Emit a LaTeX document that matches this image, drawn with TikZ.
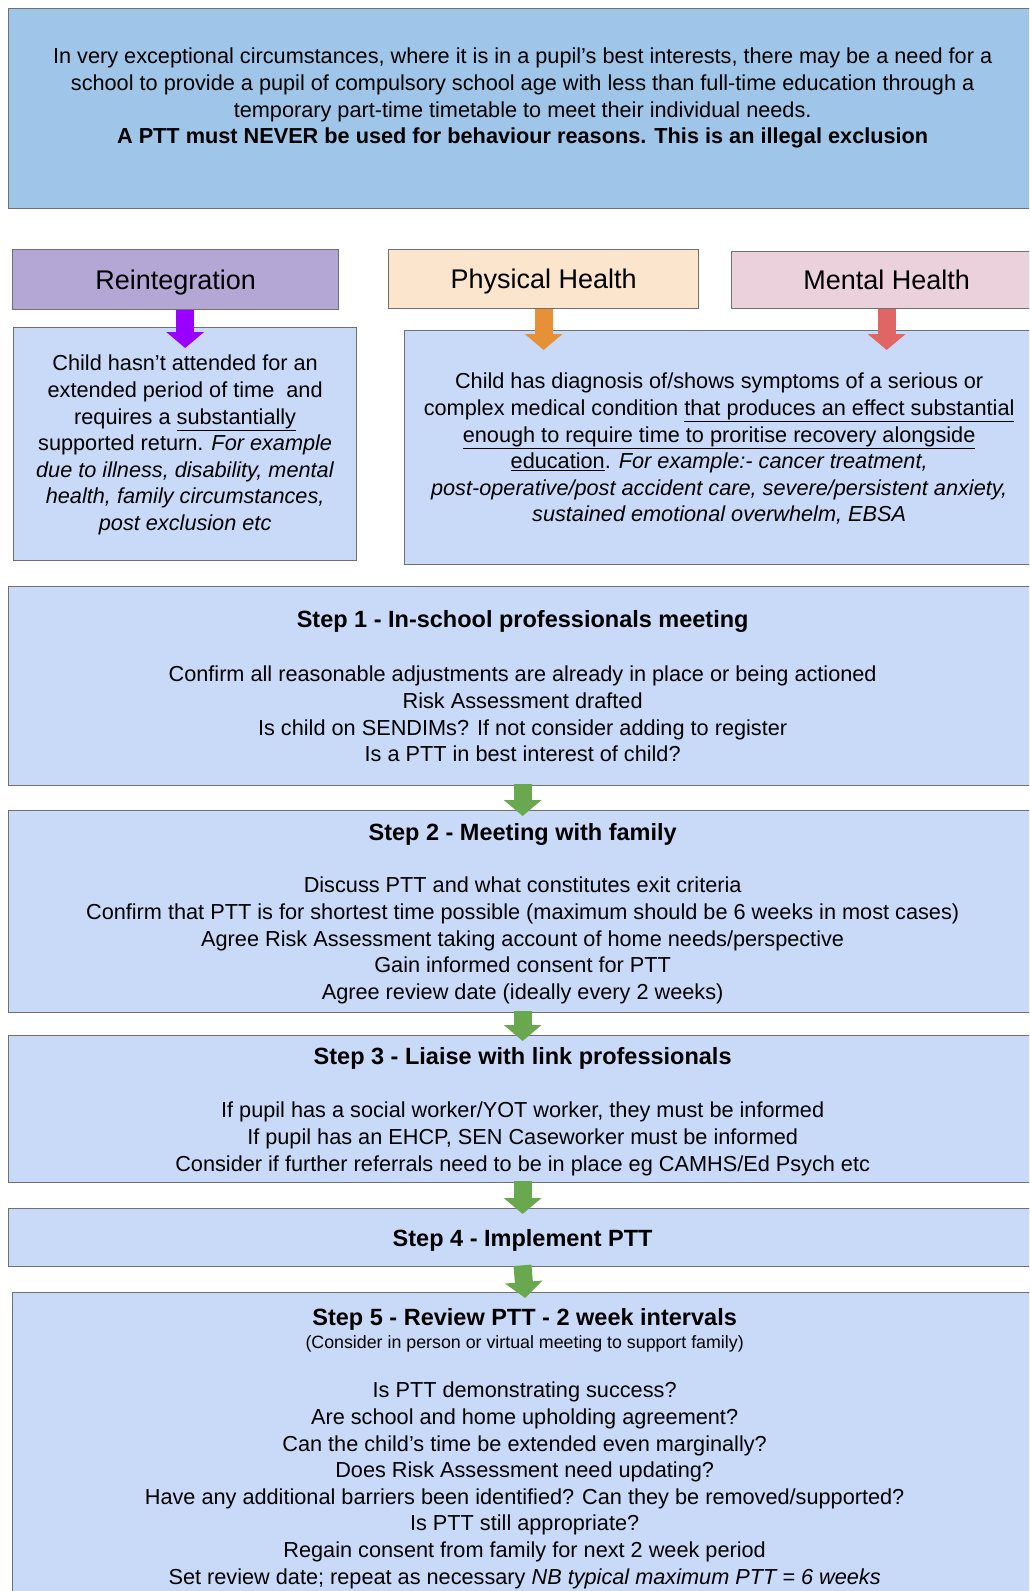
\documentclass[tikz,border=0pt]{standalone}
\usepackage{fontspec}
\setmainfont{Liberation Sans}
\usepackage{tikz}
\usetikzlibrary{arrows.meta, positioning}
\definecolor{introblue}{HTML}{9FC5E8}
\definecolor{stepblue}{HTML}{C9DAF8}
\definecolor{reintpurple}{HTML}{B4A7D6}
\definecolor{physorange}{HTML}{FCE5CD}
\definecolor{mentalpink}{HTML}{EAD1DC}
\definecolor{arrowpurple}{HTML}{9900FF}
\definecolor{arroworange}{HTML}{E69138}
\definecolor{arrowred}{HTML}{E06666}
\definecolor{arrowgreen}{HTML}{6AA84F}
\definecolor{edgegray}{HTML}{707070}
\tikzset{
    base/.style={draw=edgegray, line width=1.3pt, rectangle, inner sep=0pt, anchor=north west},
    panel/.style={base, fill=stepblue},
    intro/.style={base, fill=introblue},
    header/.style={base, text depth=0pt, font=\fontsize{27}{32}\selectfont},
    bodytext/.style={align=center, inner sep=0pt, anchor=north, node distance=0pt, font=\fontsize{21.7}{26.6}\selectfont},
    headtext/.style={bodytext, font=\fontsize{23.5}{28}\selectfont\bfseries},
    subtext/.style={bodytext, font=\fontsize{17.8}{21}\selectfont},
    blockarrow/.style={draw=#1, line width=18pt, -{Triangle[width=37pt, length=16pt]}},
    stepline/.style={blockarrow=arrowgreen, shorten <=-2pt, shorten >=-6pt}
}

\begin{document}
\begin{tikzpicture}[x=1pt, y=-1pt]
    \clip (0,0) rectangle (1029,1591);

    % intro and the three routes
    \node [intro, minimum width=1028pt, minimum height=200pt] (intro) at (8,8) {};
    \node [bodytext, below=40pt of intro.north] (introtxt) {In very exceptional circumstances, where it is in a pupil’s best interests, there may be a need for a\\
        school to provide a pupil of compulsory school age with less than full-time education through a\\
        temporary part-time timetable to meet their individual needs.\\
        \textbf{A PTT must NEVER be used for behaviour reasons. This is an illegal exclusion}};

    \node [header, fill=reintpurple, minimum width=326pt, minimum height=60pt] (reint) at (12,249) {Reintegration};
    \node [header, fill=physorange, minimum width=310pt, minimum height=59pt] (phys) at (388,249) {Physical Health};
    \node [header, fill=mentalpink, minimum width=310pt, minimum height=57pt] (mental) at (731,251) {Mental Health};

    \node [panel, minimum width=343pt, minimum height=233pt] (reintbox) at (13,327) {};
    \node [bodytext, below=28pt of reintbox.north] (reinttxt) {Child hasn’t attended for an\\
        extended period of time\ \ and\\
        requires a \underline{substantially}\\
        supported return. \textit{For example}\\
        \textit{due to illness, disability, mental}\\
        \textit{health, family circumstances,}\\
        \textit{post exclusion etc}};

    \node [panel, minimum width=629pt, minimum height=234pt] (physbox) at (404,330) {};
    \node [bodytext, below=43pt of physbox.north] (phystxt) {Child has diagnosis of/shows symptoms of a serious or\\
        complex medical condition \underline{that produces an effect substantial}\\
        \underline{enough to require time to proritise recovery alongside}\\
        \underline{education}. \textit{For example:- cancer treatment,}\\
        \textit{post-operative/post accident care, severe/persistent anxiety,}\\
        \textit{sustained emotional overwhelm, EBSA}};

    % steps
    \node [panel, minimum width=1028pt, minimum height=199pt] (step1) at (8,586) {};
    \node [headtext, below=24pt of step1.north] (step1head) {Step 1 - In-school professionals meeting};
    \node [bodytext, below=80pt of step1.north] (step1txt) {Confirm all reasonable adjustments are already in place or being actioned\\
        Risk Assessment drafted\\
        Is child on SENDIMs? If not consider adding to register\\
        Is a PTT in best interest of child?};

    \node [panel, minimum width=1028pt, minimum height=202pt] (step2) at (8,810) {};
    \node [headtext, below=13pt of step2.north] (step2head) {Step 2 - Meeting with family};
    \node [bodytext, below=67pt of step2.north] (step2txt) {Discuss PTT and what constitutes exit criteria\\
        Confirm that PTT is for shortest time possible (maximum should be 6 weeks in most cases)\\
        Agree Risk Assessment taking account of home needs/perspective\\
        Gain informed consent for PTT\\
        Agree review date (ideally every 2 weeks)};

    \node [panel, minimum width=1028pt, minimum height=147pt] (step3) at (8,1035) {};
    \node [headtext, below=12pt of step3.north] (step3head) {Step 3 - Liaise with link professionals};
    \node [bodytext, below=67pt of step3.north] (step3txt) {If pupil has a social worker/YOT worker, they must be informed\\
        If pupil has an EHCP, SEN Caseworker must be informed\\
        Consider if further referrals need to be in place eg CAMHS/Ed Psych etc};

    \node [panel, minimum width=1028pt, minimum height=58pt] (step4) at (8,1208) {};
    \node [headtext, below=21pt of step4.north] (step4head) {Step 4 - Implement PTT};

    \node [panel, minimum width=1024pt, minimum height=320pt] (step5) at (12,1292) {};
    \node [headtext, below=16pt of step5.north] (step5head) {Step 5 - Review PTT - 2 week intervals};
    \node [subtext, below=43pt of step5.north] (step5sub) {(Consider in person or virtual meeting to support family)};
    \node [bodytext, below=90pt of step5.north] (step5txt) {Is PTT demonstrating success?\\
        Are school and home upholding agreement?\\
        Can the child’s time be extended even marginally?\\
        Does Risk Assessment need updating?\\
        Have any additional barriers been identified? Can they be removed/supported?\\
        Is PTT still appropriate?\\
        Regain consent from family for next 2 week period\\
        Set review date; repeat as necessary \textit{NB typical maximum PTT = 6 weeks}};

    % block arrows
    \draw [blockarrow=arrowpurple, shorten >=-21pt] (reint.south -| reintbox.north) -- (reintbox.north);
    \draw [blockarrow=arroworange, shorten >=-20pt] (phys.south) -- (phys.south |- physbox.north);
    \draw [blockarrow=arrowred, shorten >=-20pt] (mental.south) -- (mental.south |- physbox.north);
    \draw [stepline] (step1.south) -- (step2.north);
    \draw [stepline] (step2.south) -- (step3.north);
    \draw [stepline] (step3.south) -- (step4.north);
    \draw [stepline] (step4.south) -- (step5.north);
\end{tikzpicture}
\end{document}
